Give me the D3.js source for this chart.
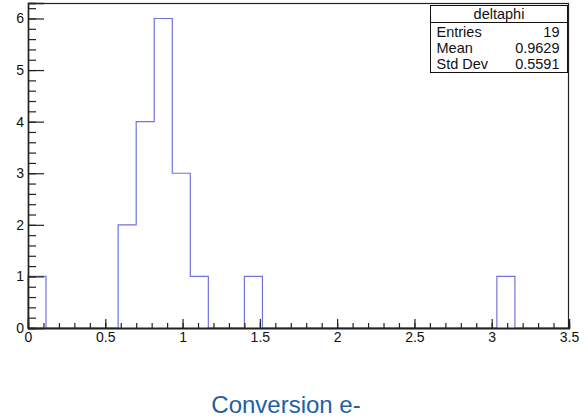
<!DOCTYPE html>
<html>
<head>
<meta charset="utf-8">
<script src="https://cdn.jsdelivr.net/npm/d3@7"></script>
<style>
  html, body { margin: 0; padding: 0; background: #fff; }
  svg { display: block; font-family: "Liberation Sans", Arial, sans-serif; }
</style>
</head>
<body>
<div id="chart"></div>
<script>
// Histogram "deltaphi": 30 bins over [0, 3.5]
const binRange = [0, 3.5];
const nBins = 30;
const binCounts = [1, 0, 0, 0, 0, 2, 4, 6, 3, 1,
                   0, 0, 1, 0, 0, 0, 0, 0, 0, 0,
                   0, 0, 0, 0, 0, 0, 1, 0, 0, 0];
const statLabels = ['Entries', 'Mean', 'Std Dev'];
const statValues = ['19', '0.9629', '0.5591'];
const histName = 'deltaphi';
const chartTitle = 'Conversion e-';

const width = 588, height = 418;
const frame = { left: 28, right: 569, top: 3, bottom: 328 };

const svg = d3.select('#chart').append('svg')
    .attr('width', width)
    .attr('height', height);

const x = d3.scaleLinear().domain(binRange).range([frame.left, frame.right]);
const y = d3.scaleLinear().domain([0, 6.3]).range([frame.bottom, frame.top]);

// Step outline of the histogram
const binWidth = (binRange[1] - binRange[0]) / nBins;
const pts = [[binRange[0], 0]];
binCounts.forEach((c, i) => {
    const x0 = binRange[0] + i * binWidth;
    pts.push([x0, c], [x0 + binWidth, c]);
});
pts.push([binRange[1], 0]);

svg.append('path')
    .datum(pts)
    .attr('fill', 'none')
    .attr('stroke', '#7272dc')
    .attr('stroke-width', 1.2)
    .attr('d', d3.line().x(d => x(d[0])).y(d => y(d[1])));

// Frame
svg.append('rect')
    .attr('x', frame.left + 0.5)
    .attr('y', frame.top + 0.5)
    .attr('width', frame.right - frame.left - 1)
    .attr('height', frame.bottom - frame.top)
    .attr('fill', 'none')
    .attr('stroke', '#222')
    .attr('stroke-width', 1.2);

// X axis: minor then major ticks
const xMinor = svg.append('g')
    .attr('transform', `translate(0,${frame.bottom})`)
    .call(d3.axisBottom(x).tickValues(d3.range(0, 3.501, 0.1)).tickSize(-5).tickFormat(''));
const xMajor = svg.append('g')
    .attr('transform', `translate(0,${frame.bottom})`)
    .call(d3.axisBottom(x).tickValues(d3.range(0, 3.501, 0.5)).tickSize(-9).tickPadding(4)
        .tickFormat(d3.format('~g')));

// Y axis
const yMinor = svg.append('g')
    .attr('transform', `translate(${frame.left},0)`)
    .call(d3.axisLeft(y).tickValues(d3.range(0, 6.21, 0.2)).tickSize(-8).tickFormat(''));
const yMajor = svg.append('g')
    .attr('transform', `translate(${frame.left},0)`)
    .call(d3.axisLeft(y).tickValues(d3.range(0, 7, 1)).tickSize(-16).tickPadding(4)
        .tickFormat(d3.format('d')));

[xMinor, xMajor, yMinor, yMajor].forEach(g => {
    g.select('.domain').attr('stroke', '#222').attr('stroke-width', 1.3);
    g.selectAll('.tick line').attr('stroke', '#222').attr('stroke-width', 1.2);
    g.selectAll('.tick text')
        .attr('fill', '#111')
        .style('font-size', '14px')
        .style('font-family', '"Liberation Sans", Arial, sans-serif');
});

// Stats box
const box = { x: 430.5, y: 5.5, w: 137, h: 67 };
const stat = svg.append('g').style('font-size', '14.5px');
stat.append('rect')
    .attr('x', box.x).attr('y', box.y)
    .attr('width', box.w).attr('height', box.h)
    .attr('fill', '#fff')
    .attr('stroke', '#111');
stat.append('line')
    .attr('x1', box.x).attr('x2', box.x + box.w)
    .attr('y1', 22.5).attr('y2', 22.5)
    .attr('stroke', '#111');
stat.append('text')
    .attr('x', box.x + box.w / 2)
    .attr('y', 14)
    .attr('dy', '0.35em')
    .attr('text-anchor', 'middle')
    .attr('fill', '#111')
    .text(histName);
stat.selectAll('text.lab')
    .data(statLabels)
    .enter().append('text')
    .attr('class', 'lab')
    .attr('x', 436.5)
    .attr('y', (d, i) => 31.5 + i * 16)
    .attr('dy', '0.35em')
    .attr('fill', '#111')
    .text(d => d);
stat.selectAll('text.val')
    .data(statValues)
    .enter().append('text')
    .attr('class', 'val')
    .attr('x', 559.5)
    .attr('y', (d, i) => 31.5 + i * 16)
    .attr('dy', '0.35em')
    .attr('text-anchor', 'end')
    .attr('fill', '#111')
    .text(d => d);

// Caption below the plot
svg.append('text')
    .attr('x', 286)
    .attr('y', 413)
    .attr('text-anchor', 'middle')
    .style('font-size', '24px')
    .attr('fill', '#1f5fa8')
    .text(chartTitle);
</script>
</body>
</html>
